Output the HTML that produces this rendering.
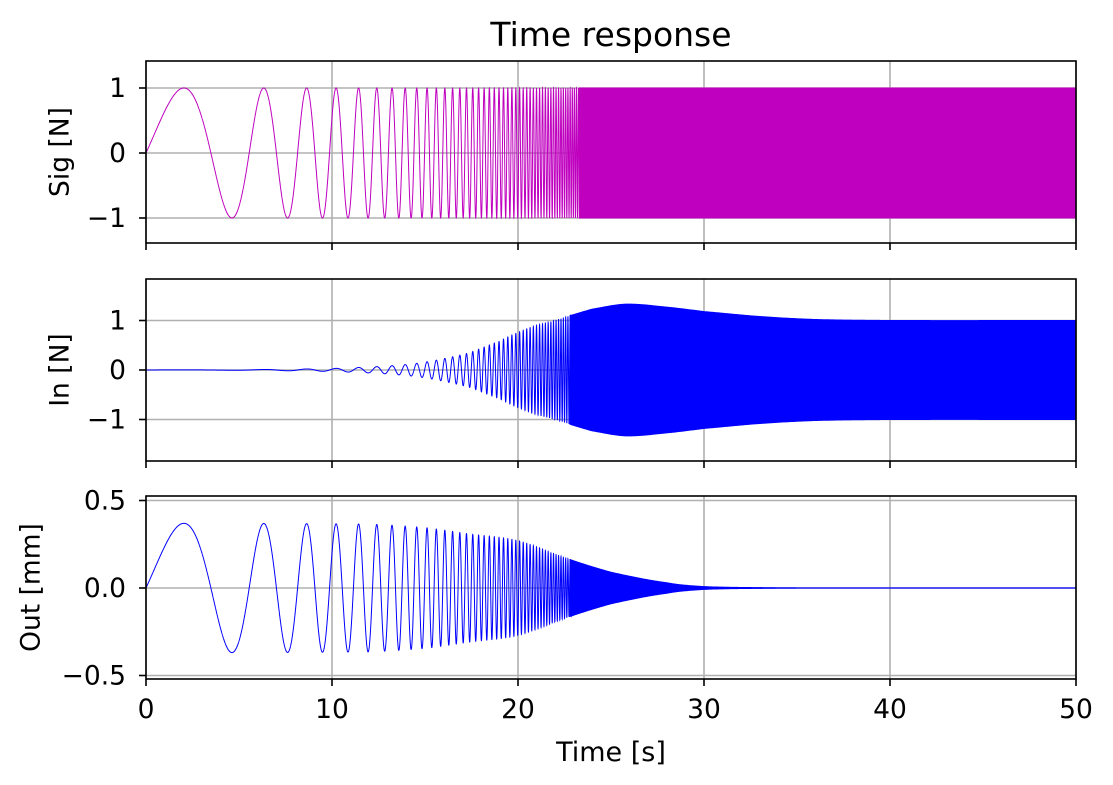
<!DOCTYPE html>
<html><head><meta charset="utf-8"><style>
body{margin:0;background:#fff;}
svg{display:block;font-family:"DejaVu Sans","Liberation Sans",sans-serif;}
</style></head><body>
<svg id="s" width="1113" height="785" xmlns="http://www.w3.org/2000/svg"></svg>
<script>
const S=document.getElementById('s');
let h='';
const X0=146,X1=1076,px=t=>X0+t*(X1-X0)/50;
const k=0.195,f0=0.1;
const ph=t=>2*Math.PI*f0*(Math.exp(k*t)-1)/k;
function interp(P){return t=>{for(let i=0;i<P.length-1;i++){if(t<=P[i+1][0]){const a=P[i],b=P[i+1];let u=(t-a[0])/(b[0]-a[0]);
 const p0=P[Math.max(i-1,0)][1],p1=a[1],p2=b[1],p3=P[Math.min(i+2,P.length-1)][1];
 return 0.5*((2*p1)+(-p0+p2)*u+(2*p0-5*p1+4*p2-p3)*u*u+(-p0+3*p1-3*p2+p3)*u*u*u);}}return P[P.length-1][1];};}
const FS=26.5;
const panels=[
 {top:61,bot:243,c:153,s:65,ticks:[[1,'1'],[0,'0'],[-1,'\u22121']],lab:'Sig [N]',lx:60,col:'#bf00bf',env:t=>1,tc:23.5},
 {top:279,bot:461,c:370,s:49.5,ticks:[[1,'1'],[0,'0'],[-1,'\u22121']],lab:'In [N]',lx:60,col:'#0000ff',tc:23,
  env:interp([[0,0.003],[5,0.006],[10,0.03],[13,0.08],[15,0.16],[17.3,0.34],[19,0.58],[20,0.76],[21,0.9],[22,1.0],[23,1.12],[24,1.23],[25.8,1.33],[28,1.27],[30,1.18],[33,1.08],[36,1.02],[40,1.0],[50,1.0]])},
 {top:496,bot:679,c:588,s:175,ticks:[[0.5,'0.5'],[0,'0.0'],[-0.5,'\u22120.5']],lab:'Out [mm]',lx:31,col:'#0000ff',tc:23,
  env:interp([[0,0.37],[12,0.365],[15,0.345],[17.3,0.31],[20,0.27],[22.6,0.17],[25,0.09],[28,0.03],[30,0.008],[33,0.002],[36,0],[50,0]])}
];
panels.forEach((p,i)=>{
 for(let t=0;t<=50;t+=10)h+=`<line x1="${px(t)}" x2="${px(t)}" y1="${p.top}" y2="${p.bot}" stroke="#b0b0b0" stroke-width="1.6"/>`;
 p.ticks.forEach(([v,l])=>{const y=p.c-v*p.s;h+=`<line x1="${X0}" x2="${X1}" y1="${y}" y2="${y}" stroke="#b0b0b0" stroke-width="1.6"/>`;
  h+=`<line x1="${X0-7}" x2="${X0}" y1="${y}" y2="${y}" stroke="#000" stroke-width="1.6"/>`;
  h+=`<text x="${X0-20}" y="${y+9}" font-size="${FS}" text-anchor="end">${l}</text>`;});
 const tc=p.tc;let d='';
 for(let t=0;t<=tc;t+=0.002){const y=p.c-p.s*p.env(t)*Math.sin(ph(t));d+=(d?'L':'M')+px(t).toFixed(2)+','+y.toFixed(2);}
 h+=`<path d="${d}" fill="none" stroke="${p.col}" stroke-width="1"/>`;
 let up='',dn=[];
 for(let t=tc-0.2;t<=50.001;t+=0.1){const e=Math.max(p.env(t),0)*p.s;up+=(up?'L':'M')+px(t).toFixed(2)+','+(p.c-e).toFixed(2);dn.push(px(t).toFixed(2)+','+(p.c+e).toFixed(2));}
 h+=`<path d="${up}L${dn.reverse().join('L')}Z" fill="${p.col}" stroke="${p.col}" stroke-width="1"/>`;
 h+=`<line x1="${px(tc)}" x2="${X1}" y1="${p.c}" y2="${p.c}" stroke="${p.col}" stroke-width="1.2"/>`;
 h+=`<rect x="${X0}" y="${p.top}" width="${X1-X0}" height="${p.bot-p.top}" fill="none" stroke="#000" stroke-width="1.6"/>`;
 for(let t=0;t<=50;t+=10){h+=`<line x1="${px(t)}" x2="${px(t)}" y1="${p.bot}" y2="${p.bot+7}" stroke="#000" stroke-width="1.6"/>`;
  if(i==2)h+=`<text x="${px(t)}" y="${p.bot+39}" font-size="${FS}" text-anchor="middle">${t}</text>`;}
 const cy=(p.top+p.bot)/2,lx=p.lx;
 h+=`<text x="${lx}" y="${cy}" font-size="${FS}" text-anchor="middle" dominant-baseline="central" transform="rotate(-90 ${lx} ${cy})">${p.lab}</text>`;
});
h+=`<text x="611" y="46" font-size="33" text-anchor="middle">Time response</text>`;
h+=`<text x="611" y="761" font-size="27" text-anchor="middle">Time [s]</text>`;
S.innerHTML=h;
</script>
</body></html>
